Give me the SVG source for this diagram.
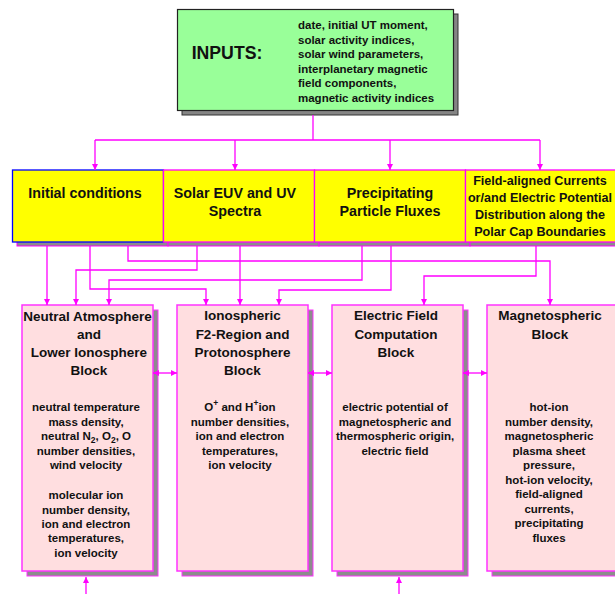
<svg xmlns="http://www.w3.org/2000/svg" width="615" height="594" viewBox="0 0 615 594">
<defs>
<marker id="ah" viewBox="0 0 10 10" refX="10" refY="5" markerWidth="6" markerHeight="8" markerUnits="userSpaceOnUse" orient="auto-start-reverse">
<path d="M0,0 L10,5 L0,10 z" fill="#FF00FF"/>
</marker>
<style>
text{font-family:"Liberation Sans",Arial,sans-serif;font-weight:bold;fill:#111;text-anchor:middle}
.big{font-size:14.3px}
.fa{font-size:12.6px}
.ttl{font-size:13.5px}
.sm{font-size:11.5px}
.con{fill:none;stroke:#FF00FF;stroke-width:1.3}
.shd{fill:#8C8C8C;stroke:#FF00FF;stroke-width:1}
.yb{fill:#FFFF00;stroke:#FF00FF;stroke-width:1.3}
.pb{fill:#FFDEE0;stroke:#FF33FF;stroke-width:1.5}
.pshd{fill:#8C8C8C;stroke:#FF33FF;stroke-width:1}
</style>
</defs>
<rect width="615" height="594" fill="#fff"/>

<g id="inputs">
<rect x="182" y="14" width="276" height="101" fill="#858585" stroke="#333" stroke-width="1"/>
<rect x="177.5" y="9.5" width="276" height="101" fill="#99FF99" stroke="#222" stroke-width="1.2"/>
<text x="227" y="58.5" style="font-size:17.7px">INPUTS:</text>
<g style="text-anchor:start" class="sm">
<text x="298" y="29" class="sm" style="text-anchor:start">date, initial UT moment,</text>
<text x="298" y="43.5" class="sm" style="text-anchor:start">solar activity indices,</text>
<text x="298" y="58" class="sm" style="text-anchor:start">solar wind parameters,</text>
<text x="298" y="72.5" class="sm" style="text-anchor:start">interplanetary magnetic</text>
<text x="298" y="87" class="sm" style="text-anchor:start">field components,</text>
<text x="298" y="101.5" class="sm" style="text-anchor:start">magnetic activity indices</text>
</g>
</g>

<g id="yellow-shadows">
<rect x="17" y="175" width="151" height="71" class="shd"/>
<rect x="168" y="175" width="151" height="71" class="shd"/>
<rect x="319" y="175" width="151" height="71" class="shd"/>
<rect x="470" y="175" width="150" height="71" class="shd"/>
</g>
<g id="initial">
<rect x="12.5" y="170" width="151" height="72" fill="#FFFF00" stroke="#0000FF" stroke-width="1.3"/>
<text x="85" y="198" class="big">Initial conditions</text>
</g>
<g id="solar">
<rect x="163.5" y="170" width="151" height="72" class="yb"/>
<text x="235" y="198" class="big">Solar EUV and UV</text>
<text x="235" y="216" class="big">Spectra</text>
</g>
<g id="precip">
<rect x="314.5" y="170" width="151" height="72" class="yb"/>
<text x="390" y="198" class="big">Precipitating</text>
<text x="390" y="216" class="big">Particle Fluxes</text>
</g>
<g id="fac">
<rect x="465.5" y="170" width="155" height="72" class="yb"/>
<text x="540" y="184.5" class="fa">Field-aligned Currents</text>
<text x="540" y="201.5" class="fa">or/and Electric Potential</text>
<text x="540" y="219" class="fa">Distribution along the</text>
<text x="540" y="236" class="fa">Polar Cap Boundaries</text>
</g>

<g id="neutral">
<rect x="27" y="310" width="131" height="266" class="pshd"/>
<rect x="22" y="305" width="131" height="266" class="pb"/>
<text x="87.5" y="321" class="ttl">Neutral Atmosphere</text>
<text x="89" y="339" class="ttl">and</text>
<text x="89" y="357" class="ttl">Lower Ionosphere</text>
<text x="89" y="375" class="ttl">Block</text>
<text x="86" y="411" class="sm">neutral temperature</text>
<text x="86" y="425.5" class="sm">mass density,</text>
<text x="86" y="440" class="sm">neutral N<tspan dy="3" style="font-size:8.5px">2</tspan><tspan dy="-3">, O</tspan><tspan dy="3" style="font-size:8.5px">2</tspan><tspan dy="-3">, O</tspan></text>
<text x="86" y="454.5" class="sm">number densities,</text>
<text x="86" y="469" class="sm">wind velocity</text>
<text x="86" y="499" class="sm">molecular ion</text>
<text x="86" y="513.5" class="sm">number density,</text>
<text x="86" y="528" class="sm">ion and electron</text>
<text x="86" y="542" class="sm">temperatures,</text>
<text x="86" y="557" class="sm">ion velocity</text>
</g>

<g id="ionospheric">
<rect x="182" y="310" width="131" height="266" class="pshd"/>
<rect x="177" y="305" width="131" height="266" class="pb"/>
<text x="242.5" y="320" class="ttl">Ionospheric</text>
<text x="242.5" y="339" class="ttl">F2-Region and</text>
<text x="242.5" y="357" class="ttl">Protonosphere</text>
<text x="242.5" y="375" class="ttl">Block</text>
<text x="240" y="411" class="sm">O<tspan dy="-5" style="font-size:8.5px">+</tspan><tspan dy="5"> and H</tspan><tspan dy="-5" style="font-size:8.5px">+</tspan><tspan dy="5">ion</tspan></text>
<text x="240" y="425.5" class="sm">number densities,</text>
<text x="240" y="440" class="sm">ion and electron</text>
<text x="240" y="454.5" class="sm">temperatures,</text>
<text x="240" y="469" class="sm">ion velocity</text>
</g>

<g id="electric">
<rect x="337" y="310" width="131" height="266" class="pshd"/>
<rect x="332" y="305" width="131" height="266" class="pb"/>
<text x="396" y="320" class="ttl">Electric Field</text>
<text x="396" y="339" class="ttl">Computation</text>
<text x="396" y="357" class="ttl">Block</text>
<text x="395" y="411" class="sm">electric potential of</text>
<text x="395" y="425.5" class="sm">magnetospheric and</text>
<text x="395" y="440" class="sm">thermospheric origin,</text>
<text x="395" y="454.5" class="sm">electric field</text>
</g>

<g id="magnetospheric">
<rect x="492" y="310" width="131" height="266" class="pshd"/>
<rect x="487" y="305" width="131" height="266" class="pb"/>
<text x="550" y="320" class="ttl">Magnetospheric</text>
<text x="550" y="339" class="ttl">Block</text>
<text x="549" y="411" class="sm">hot-ion</text>
<text x="549" y="425.5" class="sm">number density,</text>
<text x="549" y="440" class="sm">magnetospheric</text>
<text x="549" y="454.5" class="sm">plasma sheet</text>
<text x="549" y="469" class="sm">pressure,</text>
<text x="549" y="483.5" class="sm">hot-ion velocity,</text>
<text x="549" y="498" class="sm">field-aligned</text>
<text x="549" y="512.5" class="sm">currents,</text>
<text x="549" y="527" class="sm">precipitating</text>
<text x="549" y="541.5" class="sm">fluxes</text>
</g>

<g id="connectors">
<path class="con" d="M313,115 V140"/>
<path class="con" d="M95,140 H540"/>
<path class="con" d="M95,140 V170" marker-end="url(#ah)"/>
<path class="con" d="M235,140 V170" marker-end="url(#ah)"/>
<path class="con" d="M390,140 V170" marker-end="url(#ah)"/>
<path class="con" d="M540,140 V170" marker-end="url(#ah)"/>

<path class="con" d="M47,246 V305" marker-end="url(#ah)"/>
<path class="con" d="M90,246 V289 H206 V305" marker-end="url(#ah)"/>
<path class="con" d="M128,246 V261 H550 V305" marker-end="url(#ah)"/>
<path class="con" d="M197,246 V270 H76 V305" marker-end="url(#ah)"/>
<path class="con" d="M240,246 V305" marker-end="url(#ah)"/>
<path class="con" d="M362,246 V280 H109 V305" marker-end="url(#ah)"/>
<path class="con" d="M391,246 V290 H279 V305" marker-end="url(#ah)"/>
<path class="con" d="M536,246 V276 H424 V305" marker-end="url(#ah)"/>

<path class="con" d="M153,373 H177" marker-start="url(#ah)" marker-end="url(#ah)"/>
<path class="con" d="M308,373 H332" marker-start="url(#ah)" marker-end="url(#ah)"/>
<path class="con" d="M463,373 H487" marker-start="url(#ah)" marker-end="url(#ah)"/>

<path class="con" d="M86,594 V577" marker-end="url(#ah)"/>
<path class="con" d="M399,594 V577" marker-end="url(#ah)"/>
</g>
</svg>
